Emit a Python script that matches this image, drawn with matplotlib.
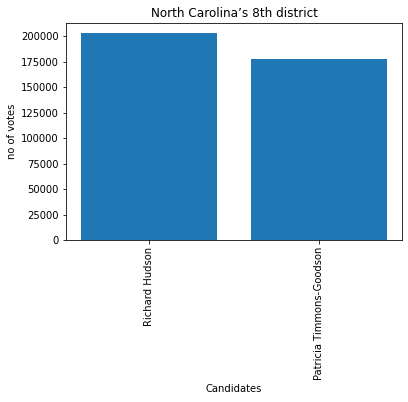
import matplotlib
matplotlib.use("Agg")
from matplotlib import pyplot as plt

candidates = ["Richard Hudson", "Patricia Timmons-Goodson"]
votes = [202774, 177781]

fig = plt.figure(figsize=(408 / 72, 402 / 72), dpi=72)
ax = fig.add_axes([66 / 408, 1 - 240 / 402, 336 / 408, 217 / 402])
ax.bar(candidates, votes)
ax.set_title("North Carolina\u2019s 8th district")
ax.set_xlabel("Candidates")
ax.set_ylabel("no of votes")
plt.xticks(rotation=90)
fig.savefig("out.png", dpi=72, facecolor="white")
